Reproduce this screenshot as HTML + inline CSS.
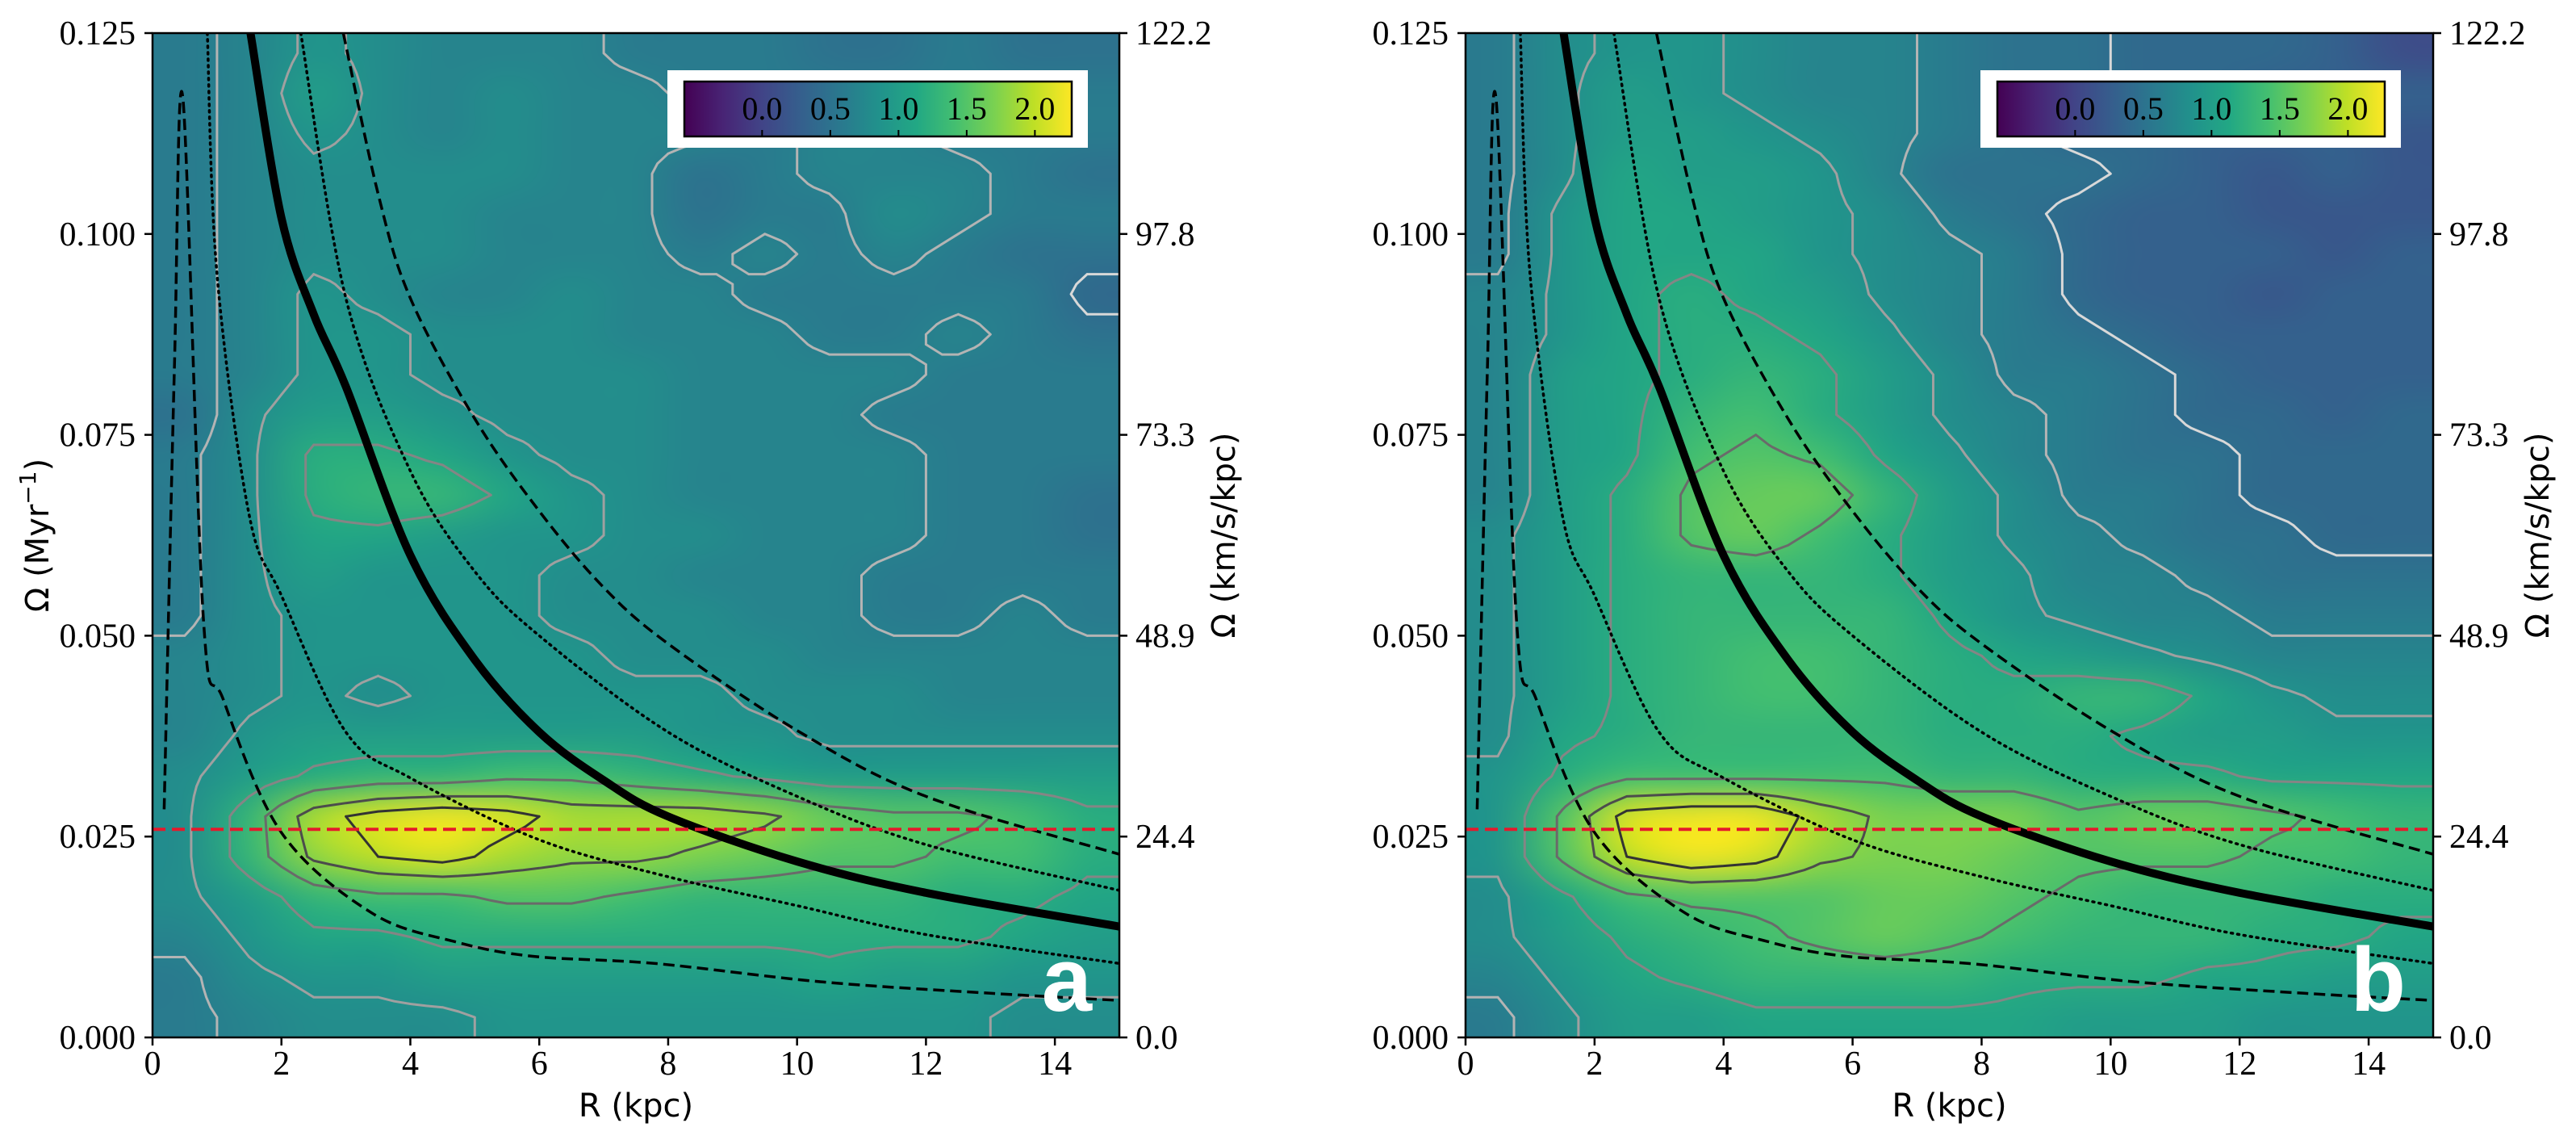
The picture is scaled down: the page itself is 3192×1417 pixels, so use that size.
<!DOCTYPE html>
<html><head><meta charset="utf-8">
<style>
html,body{margin:0;padding:0;background:#fff;}
#root{position:relative;width:3192px;height:1417px;overflow:hidden;background:#fff;}
canvas{position:absolute;}
svg{position:absolute;left:0;top:0;}
</style></head>
<body>
<div id="root">
<canvas id="heatA"></canvas>
<canvas id="heatB"></canvas>
<svg id="svg" width="3192" height="1417"></svg>
</div>
<script>
// ---- data ----
const xTicks = [0,2,4,6,8,10,12,14];
const yTicks = [0.000,0.025,0.050,0.075,0.100,0.125];
const yTickLabels = ["0.000","0.025","0.050","0.075","0.100","0.125"];
const y2TickLabels = ["0.0","24.4","48.9","73.3","97.8","122.2"];
const cbarTicks = [0.0,0.5,1.0,1.5,2.0];
const cbarLabels = ["0.0","0.5","1.0","1.5","2.0"];
const cbarMin = -0.57, cbarMax = 2.27;
const contourLevels = [0.45,0.65,0.85,1.15,1.45,1.75,2.0];
const gridA = [
[0.6,0.7,0.9,0.8,0.7,0.7,0.7,0.6,0.6,0.6,0.5,0.5,0.6,0.5,0.5],
[0.6,0.7,1.0,0.8,0.7,0.8,0.7,0.7,0.6,0.6,0.6,0.6,0.6,0.6,0.6],
[0.6,0.7,0.9,0.8,0.7,0.8,0.7,0.7,0.7,0.6,0.7,0.7,0.6,0.6,0.6],
[0.6,0.7,0.8,0.8,0.8,0.8,0.7,0.7,0.5,0.6,0.7,0.7,0.7,0.6,0.5],
[0.6,0.7,0.8,0.8,0.8,0.7,0.7,0.7,0.5,0.6,0.6,0.8,0.7,0.6,0.6],
[0.6,0.7,0.8,0.8,0.8,0.7,0.7,0.7,0.6,0.7,0.6,0.7,0.6,0.5,0.5],
[0.6,0.7,0.9,0.8,0.7,0.7,0.8,0.7,0.7,0.6,0.6,0.6,0.6,0.6,0.4],
[0.6,0.7,0.9,0.9,0.8,0.8,0.8,0.7,0.7,0.7,0.6,0.6,0.7,0.6,0.5],
[0.6,0.7,0.9,0.9,0.8,0.8,0.8,0.8,0.7,0.7,0.7,0.7,0.6,0.6,0.6],
[0.5,0.8,1.0,1.0,0.9,0.8,0.8,0.8,0.7,0.7,0.7,0.6,0.6,0.6,0.6],
[0.6,0.8,1.2,1.2,1.1,0.9,0.8,0.8,0.7,0.7,0.7,0.7,0.6,0.6,0.6],
[0.6,0.8,1.2,1.3,1.3,1.1,0.9,0.8,0.7,0.7,0.7,0.7,0.6,0.6,0.5],
[0.6,0.8,1.1,1.1,1.0,0.9,0.9,0.8,0.8,0.7,0.7,0.7,0.6,0.6,0.5],
[0.6,0.8,1.0,0.9,0.9,0.9,0.8,0.8,0.7,0.7,0.7,0.6,0.6,0.6,0.6],
[0.6,0.8,0.9,0.9,0.9,0.9,0.8,0.8,0.8,0.7,0.7,0.6,0.6,0.7,0.6],
[0.7,0.8,0.9,0.9,0.9,0.9,0.9,0.8,0.8,0.8,0.7,0.7,0.7,0.7,0.7],
[0.7,0.8,0.9,0.8,0.9,0.9,0.9,0.9,0.9,0.8,0.8,0.8,0.7,0.7,0.7],
[0.7,0.9,1.0,1.0,1.0,1.0,1.0,1.0,0.9,0.9,0.8,0.8,0.8,0.8,0.8],
[0.8,1.0,1.2,1.3,1.3,1.4,1.4,1.3,1.2,1.1,1.0,1.0,1.0,1.0,1.0],
[0.8,1.3,1.9,2.1,2.2,2.1,1.9,1.9,1.9,1.8,1.6,1.5,1.5,1.4,1.2],
[0.8,1.3,1.8,2.0,2.1,1.9,1.8,1.8,1.7,1.6,1.5,1.5,1.4,1.4,1.2],
[0.8,1.0,1.3,1.4,1.4,1.5,1.5,1.4,1.3,1.3,1.3,1.3,1.2,1.2,1.1],
[0.7,0.9,1.1,1.1,1.2,1.2,1.2,1.2,1.2,1.2,1.2,1.2,1.2,1.1,1.0],
[0.6,0.8,0.9,0.9,1.0,1.0,1.0,1.0,1.0,1.0,1.1,1.0,1.0,0.9,0.9],
[0.6,0.7,0.8,0.8,0.8,0.9,0.9,0.9,0.9,0.9,0.9,0.9,0.9,0.8,0.8]];
const gridB = [
[0.6,0.8,0.9,0.9,0.8,0.7,0.7,0.6,0.5,0.5,0.4,0.4,0.4,0.3,0.1],
[0.6,0.8,1.0,0.9,0.8,0.7,0.7,0.6,0.5,0.5,0.4,0.4,0.3,0.3,0.3],
[0.6,0.8,1.0,1.0,0.9,0.8,0.7,0.6,0.5,0.4,0.4,0.3,0.3,0.3,0.2],
[0.6,0.8,1.1,1.0,1.0,0.9,0.7,0.5,0.5,0.5,0.4,0.3,0.2,0.3,0.2],
[0.6,0.9,1.1,1.1,1.0,0.9,0.8,0.6,0.5,0.4,0.3,0.3,0.2,0.2,0.2],
[0.6,0.9,1.1,1.1,1.1,0.9,0.8,0.7,0.6,0.4,0.3,0.3,0.3,0.2,0.3],
[0.7,0.9,1.1,1.2,1.1,1.0,0.8,0.7,0.6,0.4,0.3,0.3,0.2,0.3,0.3],
[0.7,0.9,1.1,1.2,1.2,1.1,0.9,0.7,0.6,0.5,0.4,0.3,0.3,0.3,0.3],
[0.7,1.0,1.1,1.2,1.3,1.2,1.0,0.8,0.6,0.6,0.5,0.4,0.3,0.3,0.3],
[0.7,1.0,1.1,1.3,1.4,1.2,1.0,0.8,0.7,0.6,0.5,0.4,0.4,0.3,0.4],
[0.7,1.0,1.1,1.4,1.5,1.4,1.1,0.9,0.7,0.6,0.5,0.5,0.4,0.4,0.4],
[0.7,1.0,1.2,1.5,1.6,1.6,1.3,1.0,0.8,0.6,0.6,0.5,0.4,0.4,0.4],
[0.8,1.0,1.2,1.5,1.6,1.4,1.2,1.0,0.8,0.7,0.6,0.5,0.5,0.4,0.4],
[0.8,1.0,1.2,1.3,1.3,1.3,1.2,1.0,0.9,0.7,0.7,0.6,0.5,0.5,0.5],
[0.8,1.0,1.2,1.3,1.3,1.3,1.3,1.1,0.9,0.8,0.7,0.7,0.6,0.6,0.6],
[0.8,1.0,1.2,1.3,1.4,1.4,1.3,1.2,1.1,1.0,0.9,0.8,0.7,0.7,0.7],
[0.8,1.0,1.2,1.3,1.4,1.4,1.3,1.2,1.2,1.3,1.3,1.1,0.9,0.8,0.8],
[0.8,1.1,1.2,1.3,1.3,1.3,1.3,1.2,1.2,1.2,1.1,1.0,1.0,0.9,0.9],
[0.9,1.2,1.4,1.4,1.4,1.4,1.4,1.3,1.3,1.2,1.2,1.2,1.1,1.1,1.1],
[0.9,1.5,2.1,2.2,2.2,1.9,1.7,1.7,1.7,1.5,1.6,1.6,1.5,1.4,1.3],
[0.9,1.5,2.0,2.2,2.1,1.8,1.7,1.7,1.6,1.5,1.5,1.5,1.4,1.4,1.3],
[0.8,1.1,1.4,1.5,1.5,1.5,1.6,1.6,1.5,1.4,1.3,1.3,1.3,1.2,1.2],
[0.8,1.0,1.2,1.3,1.4,1.5,1.6,1.5,1.4,1.3,1.3,1.3,1.2,1.2,1.1],
[0.7,0.9,1.1,1.2,1.3,1.3,1.3,1.3,1.2,1.2,1.2,1.1,1.1,1.0,1.0],
[0.6,0.8,1.0,1.0,1.1,1.1,1.1,1.1,1.1,1.0,1.0,1.0,0.9,0.9,0.9]];
const solidR = [1.52,2,2.5,3,4,5,6,7,8,10,12,15];
const solidW = [0.125,0.102,0.090,0.081,0.060,0.047,0.038,0.032,0.0275,0.0219,0.018,0.0138];
const dashUpR = [2.96,3.5,4,5,6,7,8,10,12,15];
const dashUpW = [0.125,0.105,0.092,0.077,0.0655,0.056,0.049,0.0382,0.030,0.0228];
const dotUpR = [2.3,3,4,5,6,8,10,12,15];
const dotUpW = [0.125,0.092,0.0705,0.058,0.050,0.038,0.030,0.024,0.0183];
const dotLoR = [0.85,1,1.5,2,3,4,6,8,10,12,15];
const dotLoW = [0.125,0.095,0.065,0.055,0.038,0.0323,0.0246,0.020,0.0164,0.0128,0.0092];
const dashLoR = [0.18,0.34,0.47,0.79,1.1,2,3.4,4.7,5.9,7.8,10.4,13,15];
const dashLoW = [0.0284,0.0837,0.117,0.052,0.042,0.0255,0.0155,0.0119,0.0101,0.0092,0.0069,0.0055,0.0046];
const refOmega = 0.0259;

// ---- layout ----
const panels = [{x0:189,x1:1387,label:"a",grid:gridA,canvas:"heatA",leftTitle:true},
                {x0:1816,x1:3015,label:"b",grid:gridB,canvas:"heatB",leftTitle:false}];
const Y0 = 41, Y1 = 1285;
const vir = ["#440154","#482475","#414487","#355f8d","#2a788e","#21918c","#22a884","#44bf70","#7ad151","#bddf26","#fde725"];
const contourColors = ["#d8d8d8","#b4b4b4","#a0a0a0","#858585","#6a6a6a","#4c4c4c","#333333"];
function hex(h){return [parseInt(h.substr(1,2),16),parseInt(h.substr(3,2),16),parseInt(h.substr(5,2),16)];}
function cmap(v){let t=(v-cbarMin)/(cbarMax-cbarMin);t=Math.max(0,Math.min(1,t));const s=t*10;const i=Math.min(9,Math.floor(s));const f=s-i;const a=hex(vir[i]),b=hex(vir[i+1]);return [0,1,2].map(k=>Math.round(a[k]+(b[k]-a[k])*f));}
const NS="http://www.w3.org/2000/svg";
const svg=document.getElementById('svg');
function el(tag,attrs,parent){const e=document.createElementNS(NS,tag);for(const k in attrs)e.setAttribute(k,attrs[k]);(parent||svg).appendChild(e);return e;}
function smoothPath(pts){
  let d='M'+pts[0][0].toFixed(1)+' '+pts[0][1].toFixed(1);
  for(let i=0;i<pts.length-1;i++){
    const p0=pts[Math.max(0,i-1)],p1=pts[i],p2=pts[i+1],p3=pts[Math.min(pts.length-1,i+2)];
    const c1=[p1[0]+(p2[0]-p0[0])/6,p1[1]+(p2[1]-p0[1])/6];
    const c2=[p2[0]-(p3[0]-p1[0])/6,p2[1]-(p3[1]-p1[1])/6];
    d+=' C'+c1[0].toFixed(1)+' '+c1[1].toFixed(1)+' '+c2[0].toFixed(1)+' '+c2[1].toFixed(1)+' '+p2[0].toFixed(1)+' '+p2[1].toFixed(1);
  }
  return d;
}

panels.forEach((p,pi)=>{
  const sx=R=>p.x0+(R/15)*(p.x1-p.x0);
  const sy=w=>Y1-(w/0.125)*(Y1-Y0);
  const rows=p.grid.length, cols=p.grid[0].length;
  const small=document.createElement('canvas');small.width=cols;small.height=rows;
  const sc=small.getContext('2d');const img=sc.createImageData(cols,rows);
  for(let r=0;r<rows;r++)for(let c=0;c<cols;c++){const col=cmap(p.grid[r][c]);const o=(r*cols+c)*4;img.data[o]=col[0];img.data[o+1]=col[1];img.data[o+2]=col[2];img.data[o+3]=255;}
  sc.putImageData(img,0,0);
  const cv=document.getElementById(p.canvas);
  cv.width=p.x1-p.x0;cv.height=Y1-Y0;cv.style.left=p.x0+'px';cv.style.top=Y0+'px';
  const ctx=cv.getContext('2d');ctx.imageSmoothingEnabled=true;ctx.imageSmoothingQuality='high';
  ctx.drawImage(small,0,0,cv.width,cv.height);

  const g=el('g',{});
  
  
  const clipId='clip'+pi;
  const cp=el('clipPath',{id:clipId},g);el('rect',{x:p.x0,y:Y0,width:p.x1-p.x0,height:Y1-Y0},cp);
  const cg=el('g',{'clip-path':'url(#'+clipId+')'},g);

  const U=4, NX=cols*U, NY=rows*U;
  const val=(fx,fy)=>{
    let x=Math.max(0,Math.min(cols-1,fx)), y=Math.max(0,Math.min(rows-1,fy));
    const x0=Math.min(cols-2,Math.floor(x)), y0=Math.min(rows-2,Math.floor(y));
    const tx=x-x0, ty=y-y0;
    const a=p.grid[y0][x0],b=p.grid[y0][x0+1],c=p.grid[y0+1][x0],d=p.grid[y0+1][x0+1];
    return a*(1-tx)*(1-ty)+b*tx*(1-ty)+c*(1-tx)*ty+d*tx*ty;
  };
  const F=[];for(let j=0;j<=NY;j++){F.push([]);for(let i=0;i<=NX;i++)F[j].push(val(i/U-0.5,j/U-0.5));}
  const px=i=>p.x0+i/NX*(p.x1-p.x0), py=j=>Y0+j/NY*(Y1-Y0);
  contourLevels.forEach((L,li)=>{
    let d='';
    for(let j=0;j<NY;j++)for(let i=0;i<NX;i++){
      const v=[F[j][i],F[j][i+1],F[j+1][i+1],F[j+1][i]];
      const c=[[i,j],[i+1,j],[i+1,j+1],[i,j+1]];
      const pts=[];
      for(let e=0;e<4;e++){const a=v[e],b=v[(e+1)%4];if((a<L)!==(b<L)){const t=(L-a)/(b-a);const A=c[e],B=c[(e+1)%4];pts.push([px(A[0]+(B[0]-A[0])*t),py(A[1]+(B[1]-A[1])*t)]);}}
      for(let k=0;k+1<pts.length;k+=2)d+='M'+pts[k][0].toFixed(1)+' '+pts[k][1].toFixed(1)+'L'+pts[k+1][0].toFixed(1)+' '+pts[k+1][1].toFixed(1);
    }
    if(d){const cl=el('path',{d:d,fill:'none',stroke:contourColors[li],'stroke-width':3,'stroke-linecap':'round'},cg);
      
      }
  });

  function line(Rs,Ws,attrs,name){
    const pts=Rs.map((r,i)=>[sx(r),sy(Ws[i])]);
    const e=el('path',Object.assign({d:smoothPath(pts),fill:'none','stroke-linejoin':'round'},attrs),cg);
    
    
  }
  line(dashLoR,dashLoW,{stroke:'#000','stroke-width':3.5,'stroke-dasharray':'14 7'},'dashed-lower-curve');
  line(dotLoR,dotLoW,{stroke:'#000','stroke-width':3.5,'stroke-dasharray':'2 6','stroke-linecap':'round'},'dotted-lower-curve');
  line(dotUpR,dotUpW,{stroke:'#000','stroke-width':3.5,'stroke-dasharray':'2 6','stroke-linecap':'round'},'dotted-upper-curve');
  line(dashUpR,dashUpW,{stroke:'#000','stroke-width':3.5,'stroke-dasharray':'14 7'},'dashed-upper-curve');
  line(solidR,solidW,{stroke:'#000','stroke-width':10},'solid-rotation-curve');
  const rl=el('line',{x1:p.x0,x2:p.x1,y1:sy(refOmega),y2:sy(refOmega),stroke:'#e41a2c','stroke-width':4,'stroke-dasharray':'16 8'},cg);
  
  
  const fr=el('rect',{x:p.x0,y:Y0,width:p.x1-p.x0,height:Y1-Y0,fill:'none',stroke:'#000','stroke-width':2.5},g);
  
  
  xTicks.forEach(t=>{
    el('line',{x1:sx(t),x2:sx(t),y1:Y1,y2:Y1+10,stroke:'#000','stroke-width':2.5},g);
    const tx=el('text',{x:sx(t),y:1331,'text-anchor':'middle','font-family':'Liberation Serif, serif','font-size':42},g);
    tx.textContent=t;
    
    
  });
  yTicks.forEach((t,i)=>{
    el('line',{x1:p.x0-10,x2:p.x0,y1:sy(t),y2:sy(t),stroke:'#000','stroke-width':2.5},g);
    el('line',{x1:p.x1,x2:p.x1+10,y1:sy(t),y2:sy(t),stroke:'#000','stroke-width':2.5},g);
    const a=el('text',{x:p.x0-21,y:sy(t)+14,'text-anchor':'end','font-family':'Liberation Serif, serif','font-size':42},g);
    a.textContent=yTickLabels[i];
    
    
    const b=el('text',{x:p.x1+20,y:sy(t)+14,'text-anchor':'start','font-family':'Liberation Serif, serif','font-size':42},g);
    b.textContent=y2TickLabels[i];
    
    
  });
  const xl=el('text',{x:(p.x0+p.x1)/2,y:1383,'text-anchor':'middle','font-family':'DejaVu Sans, sans-serif','font-size':40},g);
  xl.textContent='R (kpc)';
  
  
  if(p.leftTitle){
    const yl=el('text',{x:0,y:0,'text-anchor':'middle','font-family':'DejaVu Sans, sans-serif','font-size':40,transform:'translate(60,663) rotate(-90)'},g);
    yl.innerHTML='Ω (Myr<tspan baseline-shift="super" font-size="28">−1</tspan>)';
    
    
  }
  const y2=el('text',{x:0,y:0,'text-anchor':'middle','font-family':'DejaVu Sans, sans-serif','font-size':40,transform:'translate('+(p.x1+143)+',663) rotate(-90)'},g);
  y2.textContent='Ω (km/s/kpc)';
  
  
  const lt=el('text',{x:p.x1-34,y:1252,'text-anchor':'end','font-family':'Liberation Sans, sans-serif','font-weight':'bold','font-size':112,fill:'#fff'},g);
  lt.textContent=p.label;
  
  
  const bx0=p.x0+638, bx1=p.x0+1159;
  const cb=el('g',{},g);
  
  
  el('rect',{x:bx0,y:87,width:bx1-bx0,height:96,fill:'#fff'},cb);
  const cx0=p.x0+659, cx1=p.x0+1139;
  const gid='grad'+pi;
  const lg=el('linearGradient',{id:gid,x1:0,x2:1,y1:0,y2:0},cb);
  vir.forEach((c,i)=>el('stop',{offset:i/10,'stop-color':c},lg));
  el('rect',{x:cx0,y:101,width:cx1-cx0,height:68,fill:'url(#'+gid+')',stroke:'#000','stroke-width':2.5},cb);
  const cs=v=>cx0+(v-cbarMin)/(cbarMax-cbarMin)*(cx1-cx0);
  cbarTicks.forEach((t,i)=>{
    el('line',{x1:cs(t),x2:cs(t),y1:169,y2:161,stroke:'#000','stroke-width':2},cb);
    const tt=el('text',{x:cs(t),y:148,'text-anchor':'middle','font-family':'Liberation Serif, serif','font-size':40},cb);
    tt.textContent=cbarLabels[i];
    
    
  });
});
</script>
</body></html>
